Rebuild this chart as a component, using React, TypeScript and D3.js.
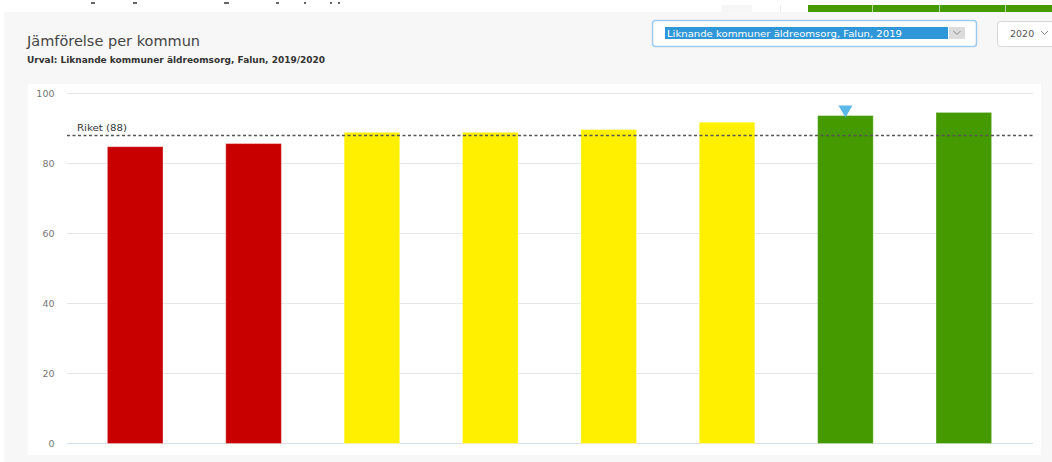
import React from "react";
import * as d3 from "d3";

const W = 1052;
const H = 462;

const categories = ["Kommun 1", "Kommun 2", "Kommun 3", "Kommun 4", "Kommun 5", "Kommun 6", "Falun", "Kommun 8"];
const values = [84.8, 85.7, 88.9, 88.9, 89.7, 91.8, 93.7, 94.6];
const levels = ["low", "low", "mid", "mid", "mid", "mid", "high", "high"];
const yTicks = [0, 20, 40, 60, 80, 100];
const riketValue = 88;
const riketLabel = "Riket (88)";
const highlighted = "Falun";

const levelColor: Record<string, string> = { low: "#c80000", mid: "#fff000", high: "#459a00" };

const FONT = "'DejaVu Sans', Verdana, sans-serif";

export default function App() {
  const y = d3.scaleLinear().domain([0, 100]).range([443.5, 93.5]);
  const x = d3.scaleBand<string>().domain(categories).range([76, 1023]).paddingInner(0.53).paddingOuter(0.265);
  const bw = x.bandwidth();

  return (
    <div style={{ position: "absolute", left: 0, top: 0 }}>
      <svg width={W} height={H} style={{ display: "block" }}>
        <rect x={0} y={0} width={W} height={H} fill="#ffffff" />
        {/* cut-off page content at top */}
        <g fill="#666">
          <rect x={91} y={2} width={4} height={2} />
          <rect x={133} y={2} width={4} height={2} />
          <rect x={224} y={2} width={5} height={2} />
          <rect x={276} y={2} width={3} height={2} />
          <rect x={304} y={2} width={2} height={2} />
          <rect x={330} y={2} width={2} height={2} />
          <rect x={338} y={2} width={2} height={2} />
        </g>
        <rect x={722} y={5} width={30} height={8} fill="#f6f6f6" />
        <rect x={780} y={5} width={1} height={8} fill="#eeeeee" />
        <rect x={808} y={5} width={244} height={8} fill="#459a00" />
        {[872, 939, 1005].map((d) => (
          <rect key={d} x={d} y={5} width={1} height={8} fill="#b9d8a0" />
        ))}
        {/* gray panel */}
        <rect x={4} y={12} width={W - 4} height={H - 12} fill="#f7f7f7" />
        <text x={27} y={46} fontFamily={FONT} fontSize={14.5} fill="#444">Jämförelse per kommun</text>
        <text x={27} y={63} fontFamily={FONT} fontSize={8.5} fontWeight="bold" fill="#333" textLength={298} lengthAdjust="spacingAndGlyphs">Urval: Liknande kommuner äldreomsorg, Falun, 2019/2020</text>

        {/* dropdown 1 */}
        <rect x={652.5} y={20.5} width={324} height={26} rx={3} fill="#ffffff" stroke="#9fcbef" strokeWidth={1.5} />
        <rect x={665} y={27} width={283} height={12} fill="#2f96d8" />
        <text x={667} y={36.5} fontFamily={FONT} fontSize={9} fill="#ffffff" textLength={235} lengthAdjust="spacingAndGlyphs">Liknande kommuner äldreomsorg, Falun, 2019</text>
        <rect x={949} y={27} width={16} height={12} fill="#dcdcdc" />
        <path d="M953.5,31 L957,34.5 L960.5,31" fill="none" stroke="#888" strokeWidth={1} />
        {/* dropdown 2 */}
        <rect x={997.5} y={21.5} width={60} height={25} rx={3} fill="#ffffff" stroke="#d6d6d6" />
        <text x={1010} y={37} fontFamily={FONT} fontSize={9.5} fill="#555">2020</text>
        <path d="M1041,31 L1044.5,34.5 L1048,31" fill="none" stroke="#888" strokeWidth={1} />

        {/* plot card */}
        <rect x={28} y={84} width={1013} height={371} fill="#ffffff" />

        {yTicks.map((t) => (
          <g key={t}>
            <line x1={67} x2={1033} y1={y(t)} y2={y(t)} stroke={t === 0 ? "#d5deea" : "#e6e6e6"} strokeWidth={1.2} />
            <text x={54.5} y={y(t) + 3.5} textAnchor="end" fontFamily={FONT} fontSize={9.5} fill="#777">{t}</text>
          </g>
        ))}

        {categories.map((c, i) => (
          <rect
            key={c}
            x={x(c)}
            y={y(values[i])}
            width={bw}
            height={y(0) - y(values[i])}
            fill={levelColor[levels[i]]}
            stroke="#ffffff"
            strokeOpacity={0.35}
            strokeWidth={1}
          />
        ))}

        <line x1={67} x2={1033} y1={y(riketValue)} y2={y(riketValue)} stroke="#555" strokeWidth={1.5} strokeDasharray="3,2.5" />
        <text x={77} y={y(riketValue) - 5} fontFamily={FONT} fontSize={9} fill="#333" textLength={50} lengthAdjust="spacingAndGlyphs">{riketLabel}</text>

        {(() => {
          const i = categories.indexOf(highlighted);
          const cx = (x(highlighted) ?? 0) + bw / 2;
          const top = y(values[i]);
          return <path d={`M${cx - 7},${top - 10} L${cx + 7},${top - 10} L${cx},${top + 2} Z`} fill="#5bb8e8" />;
        })()}
      </svg>
    </div>
  );
}
